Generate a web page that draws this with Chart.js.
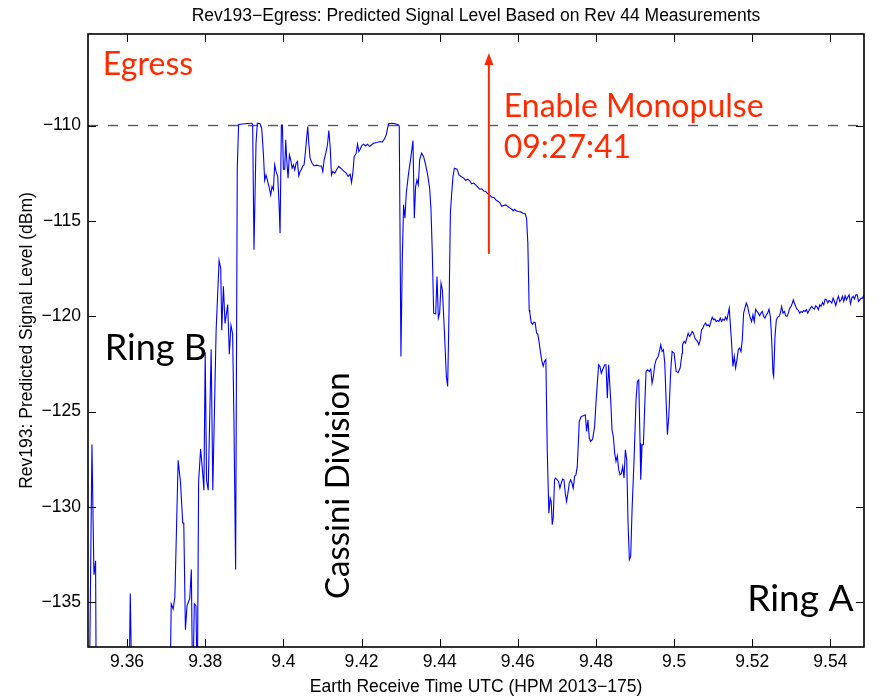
<!DOCTYPE html>
<html>
<head>
<meta charset="utf-8">
<script src="https://cdn.jsdelivr.net/npm/chart.js@4"></script>
<style>
  html, body { margin: 0; padding: 0; background: #fff; }
  canvas { display: block; }
</style>
</head>
<body>
<canvas id="chart" width="881" height="697"></canvas>
<script>
// ── Data ──────────────────────────────────────────────────────────────────

const TITLE   = 'Rev193\u2212Egress: Predicted Signal Level Based on Rev 44 Measurements';
const X_LABEL = 'Earth Receive Time UTC (HPM 2013\u2212175)';
const Y_LABEL = 'Rev193: Predicted Signal Level (dBm)';

const X_TICKS = [9.36, 9.38, 9.40, 9.42, 9.44, 9.46, 9.48, 9.50, 9.52, 9.54];
const Y_TICKS = [-135, -130, -125, -120, -115, -110];
const X_RANGE = [9.35, 9.5486];
const Y_RANGE = [-137.35, -105.2];

const THRESHOLD      = -110;     // dashed reference level (dBm)
const MONOPULSE_TIME = 9.4526;   // red arrow

// Earth receive time (hours) and predicted level (dBm); -140 = below the axis
const TIME = [
  9.35034, 9.35101, 9.35152, 9.35177, 9.35194, 9.35211,
  9.36048, 9.36082, 9.36124,
  9.37096, 9.37130, 9.37180, 9.37223, 9.37307, 9.37366, 9.37425, 9.37451, 9.37493, 9.37535,
  9.37603, 9.37645, 9.37679, 9.37721, 9.37763, 9.37797, 9.37831, 9.37882, 9.37932, 9.37966,
  9.38000, 9.38034, 9.38076, 9.38152, 9.38194, 9.38279, 9.38355, 9.38397, 9.38423, 9.38465,
  9.38507, 9.38575, 9.38617, 9.38659, 9.38701, 9.38735, 9.38778, 9.38820, 9.38854,
  9.39018, 9.39146, 9.39197, 9.39214, 9.39248, 9.39300, 9.39334, 9.39402, 9.39445, 9.39488,
  9.39522, 9.39556, 9.39590, 9.39642, 9.39676, 9.39710, 9.39744, 9.39778, 9.39813, 9.39855,
  9.39889, 9.39915, 9.39949, 9.39975, 9.40001, 9.40035, 9.40060, 9.40086, 9.40120, 9.40154,
  9.40189, 9.40223, 9.40257, 9.40291, 9.40325, 9.40359, 9.40394, 9.40428, 9.40462, 9.40496,
  9.40530, 9.40565, 9.40599, 9.40624, 9.40650, 9.40684, 9.40735, 9.40787, 9.40855, 9.40924,
  9.40975, 9.41009, 9.41043, 9.41086, 9.41129, 9.41163, 9.41197, 9.41231, 9.41265, 9.41317,
  9.41368, 9.41419, 9.41471, 9.41539, 9.41607, 9.41659, 9.41710, 9.41744, 9.41778, 9.41812,
  9.41864, 9.41898, 9.41932, 9.41966, 9.42001, 9.42052, 9.42103, 9.42155, 9.42206, 9.42257,
  9.42308, 9.42394, 9.42479, 9.42531, 9.42582, 9.42633, 9.42667, 9.42693, 9.42778, 9.42864,
  9.42949,
  9.42966, 9.43009, 9.43043, 9.43077, 9.43111, 9.43146, 9.43205, 9.43265, 9.43317, 9.43351,
  9.43385, 9.43419, 9.43453, 9.43488, 9.43539, 9.43590, 9.43641, 9.43693, 9.43744, 9.43778,
  9.43812, 9.43847, 9.43898, 9.43932, 9.43966, 9.44000, 9.44035, 9.44069, 9.44120, 9.44171,
  9.44205, 9.44240, 9.44274, 9.44308, 9.44342, 9.44376, 9.44445, 9.44496, 9.44547, 9.44616,
  9.44667, 9.44718, 9.44770, 9.44821, 9.44872, 9.44923, 9.44975, 9.45026, 9.45077, 9.45129,
  9.45180, 9.45231, 9.45282, 9.45334, 9.45385, 9.45436, 9.45488, 9.45539, 9.45590, 9.45641,
  9.45693, 9.45744, 9.45795, 9.45847, 9.45881, 9.45915, 9.45966, 9.46018, 9.46069, 9.46137,
  9.46188, 9.46223, 9.46257, 9.46291,
  9.46308, 9.46342, 9.46377, 9.46411, 9.46445, 9.46479, 9.46513, 9.46547, 9.46582, 9.46616,
  9.46650, 9.46684, 9.46718,
  9.46753, 9.46795, 9.46829, 9.46855, 9.46881, 9.46906, 9.46940, 9.46966, 9.47009, 9.47043,
  9.47077, 9.47112, 9.47146, 9.47180, 9.47214, 9.47248, 9.47282, 9.47317, 9.47351, 9.47385,
  9.47419, 9.47453, 9.47488, 9.47522, 9.47556, 9.47573, 9.47624, 9.47676, 9.47727, 9.47761,
  9.47795, 9.47829, 9.47864, 9.47915, 9.47966, 9.48000, 9.48035, 9.48069, 9.48103, 9.48137,
  9.48171, 9.48223, 9.48257, 9.48291, 9.48325, 9.48377, 9.48411, 9.48445, 9.48479, 9.48513,
  9.48547, 9.48582, 9.48616, 9.48650, 9.48684, 9.48718, 9.48753, 9.48787, 9.48821, 9.48855,
  9.48889, 9.48924, 9.48975, 9.49026, 9.49060, 9.49095, 9.49129, 9.49146, 9.49180, 9.49214,
  9.49248, 9.49282, 9.49317, 9.49368, 9.49402, 9.49436, 9.49470, 9.49505, 9.49539, 9.49590,
  9.49624, 9.49659, 9.49693, 9.49727, 9.49761, 9.49795, 9.49829, 9.49864, 9.49915, 9.49949,
  9.50000, 9.50052, 9.50103, 9.50154, 9.50205,
  9.50215, 9.50257, 9.50292, 9.50326, 9.50360, 9.50394, 9.50428, 9.50463, 9.50497, 9.50531,
  9.50565, 9.50599, 9.50634, 9.50668, 9.50702, 9.50736, 9.50770, 9.50805, 9.50839, 9.50873,
  9.50907, 9.50941, 9.50975, 9.51010, 9.51044, 9.51078, 9.51112, 9.51146, 9.51181, 9.51215,
  9.51249, 9.51283, 9.51317, 9.51351, 9.51386, 9.51411, 9.51437, 9.51471, 9.51505, 9.51540,
  9.51574, 9.51608, 9.51642, 9.51676, 9.51711, 9.51745, 9.51779, 9.51813, 9.51847, 9.51882,
  9.51916, 9.51950, 9.51984, 9.52018, 9.52052, 9.52087, 9.52121, 9.52155, 9.52189, 9.52223,
  9.52258, 9.52292, 9.52326, 9.52360, 9.52394, 9.52429, 9.52463, 9.52497, 9.52531, 9.52548,
  9.52582, 9.52617, 9.52651, 9.52685, 9.52719, 9.52753, 9.52787, 9.52822, 9.52856, 9.52890,
  9.52924, 9.52958, 9.52993, 9.53027, 9.53052, 9.53078, 9.53112, 9.53146, 9.53181, 9.53215,
  9.53249, 9.53283, 9.53317, 9.53352, 9.53386, 9.53420, 9.53454, 9.53488, 9.53523, 9.53557,
  9.53591, 9.53625, 9.53659, 9.53694, 9.53728, 9.53762, 9.53796, 9.53830, 9.53864, 9.53899,
  9.53933, 9.53967, 9.54001, 9.54035, 9.54070, 9.54104, 9.54138, 9.54172, 9.54206, 9.54240,
  9.54275, 9.54309, 9.54343, 9.54377, 9.54411, 9.54446, 9.54480, 9.54514, 9.54548, 9.54582,
  9.54617, 9.54651, 9.54685, 9.54719, 9.54753, 9.54787, 9.54822, 9.54856
];

const LEVEL = [
  -140, -126.73, -133.56, -133.20, -132.83, -140,
  -140, -134.55, -140,
  -140, -135.09, -135.36, -134.73, -127.56, -128.68, -130.85, -130.85, -136.44, -135.18,
  -134.82, -133.29, -140, -135.09, -135.18, -140, -128.68, -126.97, -128.14, -129.13,
  -121.91, -128.59, -129.13, -121.73, -129.13, -120.74, -117.08, -117.49, -120.74, -118.43,
  -120.38, -119.39, -122.00, -120.47, -120.92, -125.43, -133.29, -112.26, -109.95,
  -109.91, -109.88, -109.88, -109.97, -116.52, -110.93, -109.88, -109.91, -110.14, -111.45,
  -112.88, -112.59, -112.85, -113.29, -113.64, -113.20, -113.37, -112.06, -112.41, -112.67,
  -114.07, -115.65, -109.97, -109.97, -112.29, -112.29, -110.75, -111.80, -112.76, -111.54,
  -111.80, -112.24, -112.06, -112.33, -111.98, -111.89, -112.64, -112.41, -112.29, -112.12,
  -112.06, -111.36, -110.58, -110.05, -110.93, -111.71, -111.98, -112.12, -112.08, -112.12,
  -112.12, -112.41, -111.80, -111.45, -111.01, -110.26, -111.10, -112.59, -112.41, -112.50,
  -112.29, -112.15, -112.24, -112.38, -112.50, -112.67, -112.55, -112.99, -112.50, -111.63,
  -111.45, -110.98, -111.36, -111.24, -111.07, -110.98, -111.07, -110.98, -111.10, -111.01,
  -110.93, -110.89, -110.84, -110.87, -110.72, -110.49, -110.14, -109.91, -109.88, -109.91,
  -109.97,
  -110.05, -122.12, -117.05, -114.16, -114.86, -113.55, -112.50, -111.63, -110.79, -114.86,
  -113.20, -112.85, -113.11, -111.80, -111.45, -111.63, -112.06, -112.59, -113.29, -114.42,
  -116.70, -119.84, -119.88, -117.92, -120.10, -119.84, -118.27, -118.62, -120.72, -123.16,
  -123.69, -119.67, -114.60, -113.55, -112.67, -112.24, -112.29, -112.59, -112.67, -112.76,
  -112.88, -112.81, -112.90, -113.06, -113.02, -113.11, -113.23, -113.34, -113.32, -113.43,
  -113.46, -113.58, -113.65, -113.76, -113.76, -113.90, -113.97, -114.04, -114.25, -114.18,
  -114.16, -114.25, -114.32, -114.39, -114.48, -114.39, -114.48, -114.51, -114.53, -114.60,
  -114.63, -114.86, -116.17, -119.67,
  -119.82, -120.34, -120.43, -120.31, -120.34, -120.87, -120.95, -121.39, -121.92, -122.36,
  -122.62, -122.36, -122.27,
  -127.01, -130.33, -129.54, -129.72, -130.94, -130.59, -128.58, -128.49, -128.58, -128.67,
  -129.02, -128.75, -128.54, -128.58, -129.28, -129.72, -129.28, -128.75, -128.58, -128.75,
  -129.02, -128.40, -128.32, -127.88, -126.31, -125.52, -125.26, -125.22, -125.17, -126.04,
  -125.43, -126.39, -126.57, -126.45, -125.78, -124.56, -123.51, -122.55, -122.64, -122.99,
  -122.81, -122.55, -122.55, -124.30, -122.55, -124.38, -125.96, -126.31, -127.18, -127.62,
  -127.32, -128.05, -128.32, -128.26, -127.88, -128.49, -127.01, -127.53, -130.85, -132.77,
  -132.60, -130.15, -127.53, -124.38, -123.42, -123.34, -126.66, -128.58, -126.74, -126.74,
  -124.73, -122.90, -122.81, -122.90, -122.78, -123.51, -123.16, -122.55, -122.29, -122.11,
  -121.85, -121.50, -121.85, -121.76, -122.46, -124.38, -126.22, -125.26, -122.81, -121.85,
  -121.94, -122.90, -122.95, -122.72, -121.94,
  -121.50, -121.32, -121.41, -121.15, -120.89, -121.06, -120.97, -120.80, -120.89, -121.15,
  -121.24, -121.32, -121.50, -121.24, -120.71, -120.63, -120.45, -120.36, -120.50, -120.45,
  -120.54, -120.28, -120.05, -120.19, -120.15, -120.28, -120.22, -120.28, -120.10, -120.28,
  -120.15, -120.22, -120.05, -120.19, -119.84, -119.58, -120.36, -121.41, -122.64, -122.11,
  -122.72, -122.29, -121.76, -121.67, -121.85, -121.24, -119.84, -119.58, -119.31, -119.49,
  -119.84, -120.10, -120.28, -119.93, -120.28, -119.63, -119.75, -119.84, -119.98, -119.84,
  -119.75, -120.01, -120.10, -119.93, -119.84, -119.63, -120.01, -121.24, -122.99, -123.16,
  -121.06, -120.19, -120.05, -120.01, -119.84, -119.49, -119.84, -119.75, -119.98, -120.01,
  -119.84, -119.58, -119.49, -119.31, -119.14, -119.31, -119.49, -119.63, -119.70, -119.84,
  -119.75, -119.80, -119.70, -119.75, -119.66, -119.84, -119.70, -119.58, -119.49, -119.58,
  -119.63, -119.45, -119.52, -119.66, -119.40, -119.49, -119.28, -119.40, -119.11, -119.14,
  -119.31, -119.17, -119.23, -119.31, -119.05, -119.23, -119.45, -119.14, -118.96, -119.23,
  -119.14, -118.96, -119.23, -118.93, -119.14, -119.00, -118.88, -119.35, -119.05, -118.96,
  -119.10, -118.88, -118.88, -119.23, -119.14, -119.05, -119.05, -118.88
];

// ── Annotations / frame ───────────────────────────────────────────────────

const RED = '#ff2a00';
const TEXT_FONT = '"Liberation Sans", Arial, Helvetica, sans-serif';
const NOTE_FONT = 'Lato, "Gill Sans", "Open Sans", sans-serif';

const matlabFrame = {
  id: 'matlabFrame',
  afterDraw(chart) {
    const { ctx, chartArea: a, scales: { x, y } } = chart;
    const TL = 8;
    ctx.save();

    // inward ticks on all four sides
    ctx.strokeStyle = '#000';
    ctx.lineWidth = 1;
    ctx.beginPath();
    X_TICKS.forEach(v => {
      const px = Math.round(x.getPixelForValue(v)) + 0.5;
      ctx.moveTo(px, a.bottom); ctx.lineTo(px, a.bottom - TL);
      ctx.moveTo(px, a.top);    ctx.lineTo(px, a.top + TL);
    });
    Y_TICKS.forEach(v => {
      const py = Math.round(y.getPixelForValue(v)) + 0.5;
      ctx.moveTo(a.left, py);  ctx.lineTo(a.left + TL, py);
      ctx.moveTo(a.right, py); ctx.lineTo(a.right - TL, py);
    });
    ctx.stroke();

    // box
    ctx.lineWidth = 1.6;
    ctx.strokeRect(a.left, a.top, a.right - a.left, a.bottom - a.top);

    // title + axis labels
    ctx.fillStyle = '#000';
    ctx.textAlign = 'center';
    ctx.textBaseline = 'alphabetic';
    ctx.font = `17.5px ${TEXT_FONT}`;
    ctx.fillText(TITLE, (a.left + a.right) / 2, 21);
    ctx.fillText(X_LABEL, (a.left + a.right) / 2, 692);
    ctx.save();
    ctx.translate(32, (a.top + a.bottom) / 2);
    ctx.rotate(-Math.PI / 2);
    ctx.fillText(Y_LABEL, 0, 0);
    ctx.restore();

    // monopulse arrow
    const ax = x.getPixelForValue(MONOPULSE_TIME);
    const y0 = y.getPixelForValue(-116.73);
    const y1 = y.getPixelForValue(-106.19);
    ctx.strokeStyle = RED;
    ctx.fillStyle = RED;
    ctx.lineWidth = 2;
    ctx.beginPath();
    ctx.moveTo(ax, y0); ctx.lineTo(ax, y1 + 10);
    ctx.stroke();
    ctx.beginPath();
    ctx.moveTo(ax, y1);
    ctx.lineTo(ax - 4.5, y1 + 12);
    ctx.lineTo(ax + 4.5, y1 + 12);
    ctx.closePath();
    ctx.fill();

    // region notes
    ctx.textAlign = 'left';
    ctx.font = `32px ${NOTE_FONT}`;
    ctx.fillText('Egress', x.getPixelForValue(9.3538), y.getPixelForValue(-107.34));
    ctx.fillText('Enable Monopulse', x.getPixelForValue(9.4564), y.getPixelForValue(-109.54));
    ctx.fillText('09:27:41', x.getPixelForValue(9.4564), y.getPixelForValue(-111.69));

    ctx.fillStyle = '#000';
    ctx.font = `36px ${NOTE_FONT}`;
    ctx.fillText('Ring B', x.getPixelForValue(9.3543), y.getPixelForValue(-122.3));
    ctx.font = `37px ${NOTE_FONT}`;
    ctx.textAlign = 'right';
    ctx.fillText('Ring A', x.getPixelForValue(9.5459), y.getPixelForValue(-135.45));

    ctx.font = `33px ${NOTE_FONT}`;
    ctx.save();
    ctx.translate(x.getPixelForValue(9.41410), y.getPixelForValue(-128.89));
    ctx.rotate(-Math.PI / 2);
    ctx.textAlign = 'center';
    ctx.textBaseline = 'middle';
    ctx.fillText('Cassini Division', 0, 0);
    ctx.restore();

    ctx.restore();
  }
};

// ── Chart ─────────────────────────────────────────────────────────────────

new Chart(document.getElementById('chart'), {
  type: 'line',
  data: {
    datasets: [
      {
        data: TIME.map((t, i) => ({ x: t, y: LEVEL[i] })),
        borderColor: '#0000ff',
        borderWidth: 1.1,
        pointRadius: 0,
        tension: 0,
      },
      {
        data: [{ x: X_RANGE[0], y: THRESHOLD }, { x: X_RANGE[1], y: THRESHOLD }],
        borderColor: '#5a5a5a',
        borderWidth: 1.4,
        borderDash: [10, 10],
        pointRadius: 0,
      },
    ],
  },
  options: {
    responsive: false,
    devicePixelRatio: 1,
    animation: false,
    layout: { padding: { top: 34, right: 17, left: 0, bottom: 0 } },
    plugins: { legend: { display: false }, tooltip: { enabled: false } },
    scales: {
      x: {
        type: 'linear',
        min: X_RANGE[0],
        max: X_RANGE[1],
        afterBuildTicks: s => { s.ticks = X_TICKS.map(v => ({ value: v })); },
        afterFit: s => { s.height = 50; },
        grid: { display: false, drawTicks: false },
        border: { display: false },
        ticks: {
          color: '#000',
          padding: 5,
          maxRotation: 0,
          autoSkip: false,
          font: { family: TEXT_FONT, size: 17.5 },
          callback: v => String(v),
        },
      },
      y: {
        min: Y_RANGE[0],
        max: Y_RANGE[1],
        afterBuildTicks: s => { s.ticks = Y_TICKS.map(v => ({ value: v })); },
        afterFit: s => { s.width = 88; },
        grid: { display: false, drawTicks: false },
        border: { display: false },
        ticks: {
          color: '#000',
          padding: 7,
          autoSkip: false,
          font: { family: TEXT_FONT, size: 17.5 },
          callback: v => '\u2212' + Math.abs(v),
        },
      },
    },
  },
  plugins: [matlabFrame],
});
</script>
</body>
</html>
